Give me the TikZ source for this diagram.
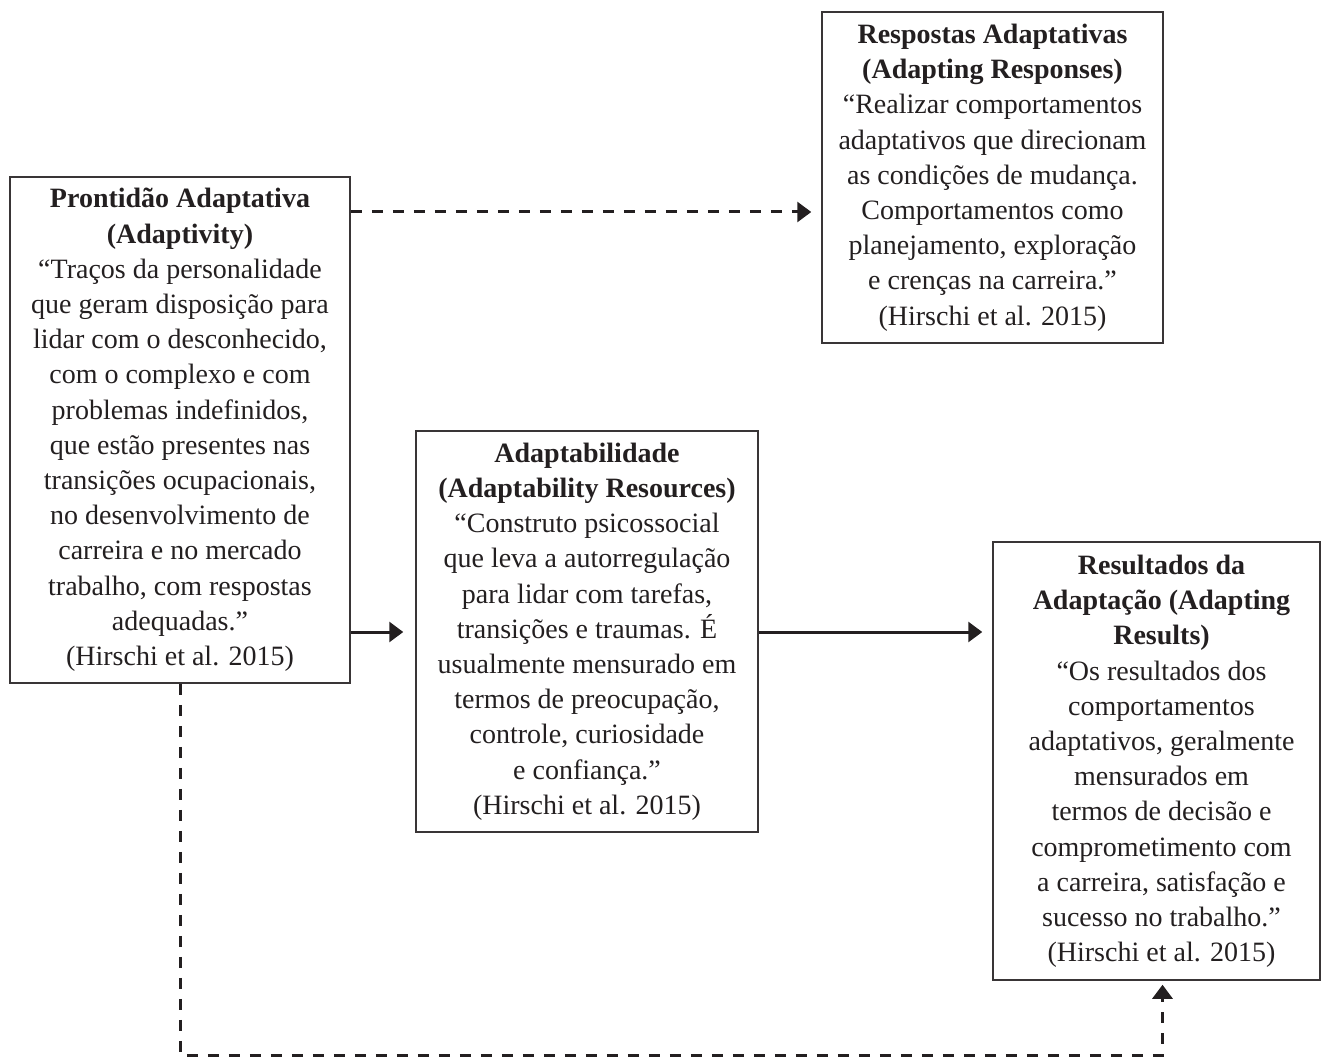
\documentclass[tikz,border=0pt]{standalone}
\usepackage{fontspec}
\setmainfont{Liberation Serif}
\usetikzlibrary{arrows.meta}
\definecolor{ink}{HTML}{231F20}
\begin{document}
\begin{tikzpicture}[x=1pt,y=-1pt,
  box/.style={draw=ink!90, line width=1.5pt, align=center, inner sep=0pt,
    text=ink, font=\fontsize{28}{35.2}\selectfont},
  conn/.style={draw=ink, line width=3pt, -{Triangle[length=14pt,width=20pt]}},
  dconn/.style={conn, dash pattern=on 11pt off 10pt}]
\useasboundingbox (0,0) rectangle (1322,1059);

\node[box, minimum width=340pt, minimum height=506pt] (pr) at (180,430)
 {\textbf{Prontidão Adaptativa}\\ \textbf{(Adaptivity)}\\
  “Traços da personalidade\\ que geram disposição para\\
  lidar com o desconhecido,\\ com o complexo e com\\
  problemas indefinidos,\\ que estão presentes nas\\
  transições ocupacionais,\\ no desenvolvimento de\\
  carreira e no mercado\\ trabalho, com respostas\\
  adequadas.”\\ (Hirschi et al. 2015)};

\node[box, minimum width=341pt, minimum height=331pt] (rs) at (992.5,177.5)
 {\textbf{Respostas Adaptativas}\\ \textbf{(Adapting Responses)}\\
  “Realizar comportamentos\\ adaptativos que direcionam\\
  as condições de mudança.\\ Comportamentos como\\
  planejamento, exploração\\ e crenças na carreira.”\\
  (Hirschi et al. 2015)};

\node[box, minimum width=342pt, minimum height=401pt] (ad) at (587,631.5)
 {\textbf{Adaptabilidade}\\ \textbf{(Adaptability Resources)}\\
  “Construto psicossocial\\ que leva a autorregulação\\
  para lidar com tarefas,\\ transições e traumas. É\\
  usualmente mensurado em\\ termos de preocupação,\\
  controle, curiosidade\\ e confiança.”\\
  (Hirschi et al. 2015)};

\node[box, minimum width=327pt, minimum height=438pt] (re) at (1156.5,761)
 {\hspace*{10pt}\begin{tabular}{@{}c@{}}\textbf{Resultados da}\\ \textbf{Adaptação (Adapting}\\ \textbf{Results)}\\
  “Os resultados dos\\ comportamentos\\
  adaptativos, geralmente\\ mensurados em\\
  termos de decisão e\\ comprometimento com\\
  a carreira, satisfação e\\ sucesso no trabalho.”\\
  (Hirschi et al. 2015)\end{tabular}};

\draw[dconn, shorten >=10pt] (pr.east |- {0,212}) -- (rs.west |- {0,212});
\draw[conn, shorten >=12pt] (pr.east |- {0,632}) -- (ad.west |- {0,632});
\draw[conn, shorten >=10pt] (ad.east |- {0,632}) -- (re.west |- {0,632});
\draw[dconn, shorten >=4pt] (pr.south) -- (pr.south |- {0,1055}) -| ([xshift=6pt]re.south);
\end{tikzpicture}
\end{document}
